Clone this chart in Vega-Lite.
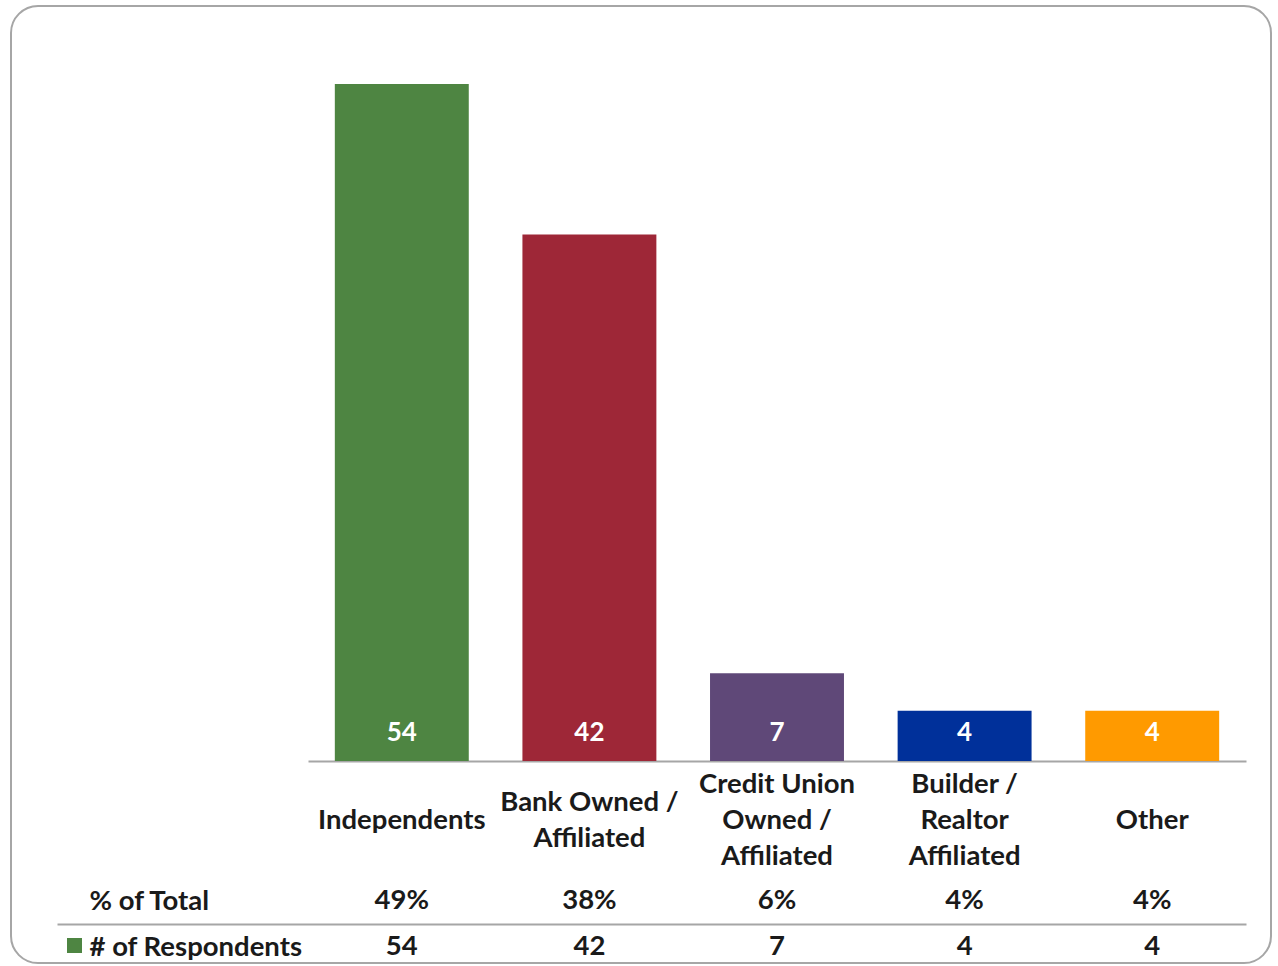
{
  "$schema": "https://vega.github.io/schema/vega-lite/v6.json",
  "width": 1260,
  "height": 957,
  "autosize": {"type": "none"},
  "padding": {"left": 11, "top": 6, "right": 7, "bottom": 3},
  "background": "white",
  "config": {
    "view": {"stroke": "#a6a6a6", "strokeWidth": 2, "cornerRadius": 27, "fill": "white"},
    "font": "Lato"
  },
  "datasets": {
    "resp": [
      {"category": "Independents", "count": 54, "pct": "49%"},
      {"category": "Bank Owned /\nAffiliated", "count": 42, "pct": "38%"},
      {"category": "Credit Union\nOwned /\nAffiliated", "count": 7, "pct": "6%"},
      {"category": "Builder /\nRealtor\nAffiliated", "count": 4, "pct": "4%"},
      {"category": "Other", "count": 4, "pct": "4%"}
    ]
  },
  "data": {"name": "resp"},
  "layer": [
    {
      "layer": [
        {
          "mark": {"type": "bar"},
          "encoding": {
            "fill": {
              "field": "category",
              "type": "nominal",
              "scale": {
                "domain": ["Independents", "Bank Owned /\nAffiliated", "Credit Union\nOwned /\nAffiliated", "Builder /\nRealtor\nAffiliated", "Other"],
                "range": ["#4e8542", "#9e2737", "#5f4878", "#00309a", "#ff9a00"]
              },
              "legend": {
                "orient": "none",
                "legendX": 56,
                "legendY": 932,
                "values": ["Independents"],
                "labelExpr": "''",
                "title": null,
                "symbolType": "square",
                "symbolSize": 225,
                "symbolStrokeWidth": 0,
                "padding": 0,
                "labelFontSize": 1
              }
            }
          }
        },
        {
          "mark": {"type": "text", "color": "white", "fontWeight": "bold", "fontSize": 26, "dy": -28, "baseline": "middle", "font": "Lato"},
          "encoding": {
            "y": {"datum": 0},
            "text": {"field": "count", "type": "quantitative"}
          }
        },
        {
          "mark": {
            "type": "text",
            "color": "#1a1a1a",
            "fontWeight": "bold",
            "fontSize": 27.5,
            "baseline": "middle",
            "font": "Lato",
            "lineBreak": "\n",
            "lineHeight": 36,
            "dy": {"expr": "59.5 - (length(split(datum.category, '\\n')) - 1) * 18"}
          },
          "encoding": {
            "y": {"datum": 0},
            "text": {"field": "category", "type": "nominal"}
          }
        }
      ],
      "encoding": {
        "x": {
          "field": "category",
          "type": "nominal",
          "scale": {
            "type": "band",
            "domain": ["Independents", "Bank Owned /\nAffiliated", "Credit Union\nOwned /\nAffiliated", "Builder /\nRealtor\nAffiliated", "Other"],
            "range": [297, 1235],
            "paddingInner": 0.286,
            "paddingOuter": 0.143
          },
          "axis": {
            "orient": "bottom",
            "offset": -202,
            "title": null,
            "grid": false,
            "domainColor": "#a6a6a6",
            "domainWidth": 2,
            "ticks": false,
            "labels": false
          }
        },
        "y": {
          "field": "count",
          "type": "quantitative",
          "scale": {"domain": [0, 54], "range": [755, 78]},
          "axis": null
        }
      }
    },
    {
      "transform": [{"fold": ["pct", "count"], "as": ["row", "value"]}],
      "mark": {"type": "text", "color": "#1a1a1a", "fontWeight": "bold", "fontSize": 27.5, "baseline": "middle", "font": "Lato"},
      "encoding": {
        "x": {
          "field": "category",
          "type": "nominal",
          "scale": {
            "type": "band",
            "domain": ["Independents", "Bank Owned /\nAffiliated", "Credit Union\nOwned /\nAffiliated", "Builder /\nRealtor\nAffiliated", "Other"],
            "range": [46, 1235],
            "paddingInner": 0,
            "paddingOuter": 0.669,
            "align": 1
          },
          "axis": {
            "orient": "bottom",
            "offset": -39,
            "title": null,
            "grid": false,
            "labels": false,
            "ticks": false,
            "domainColor": "#a6a6a6",
            "domainWidth": 2
          }
        },
        "y": {
          "field": "row",
          "type": "ordinal",
          "scale": {"type": "point", "domain": ["pct", "count"], "range": [895, 941], "padding": 0},
          "axis": {
            "orient": "left",
            "title": null,
            "domain": false,
            "ticks": false,
            "grid": false,
            "labelAlign": "left",
            "labelPadding": -78,
            "labelBaseline": "middle",
            "labelFont": "Lato",
            "labelFontSize": 27.5,
            "labelFontWeight": "bold",
            "labelColor": "#1a1a1a",
            "labelExpr": "datum.value == 'pct' ? '% of Total' : '# of Respondents'",
            "labelOverlap": false,
            "labelBound": false,
            "labelFlush": false,
            "labelLimit": 0
          }
        },
        "text": {"field": "value"}
      }
    }
  ],
  "resolve": {
    "scale": {"x": "independent", "y": "independent"},
    "axis": {"x": "independent", "y": "independent"}
  }
}
